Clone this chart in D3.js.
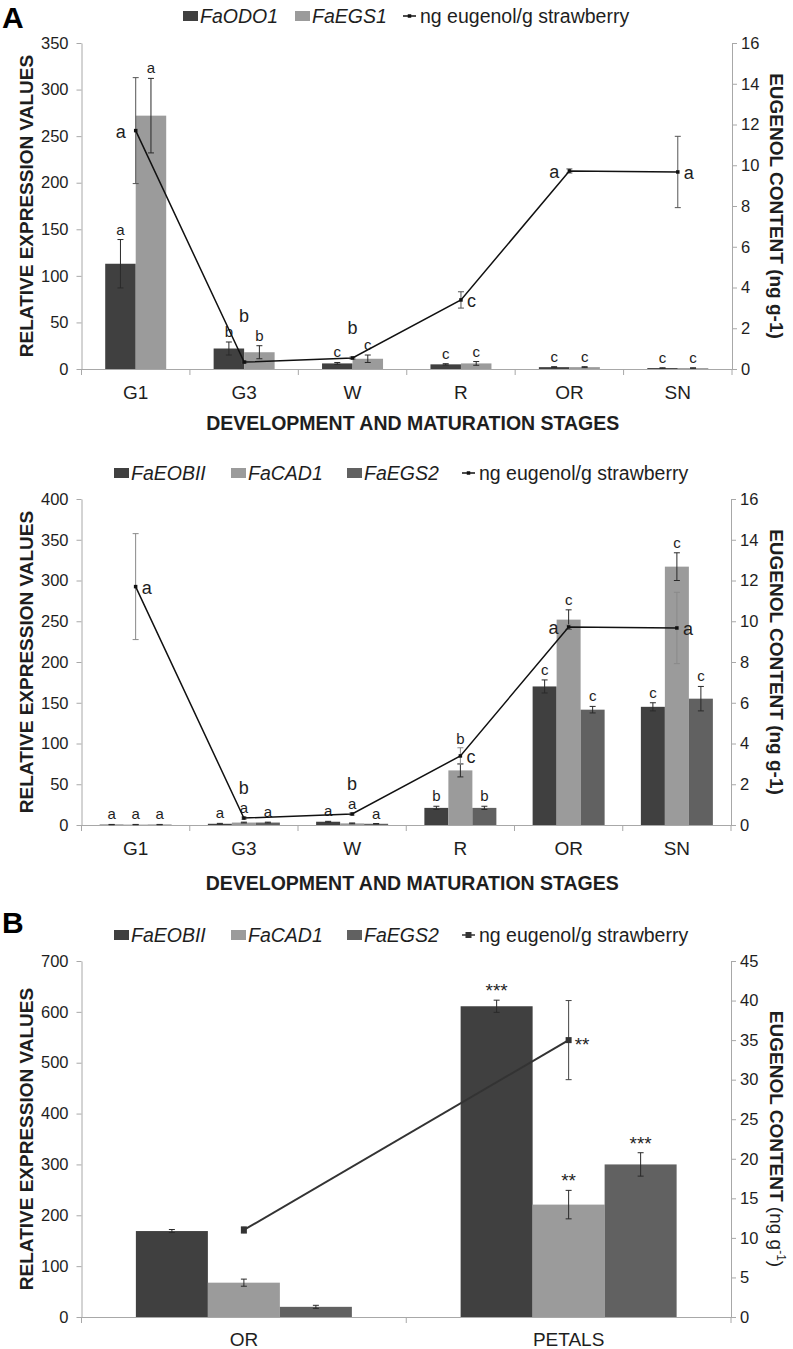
<!DOCTYPE html>
<html><head><meta charset="utf-8">
<script src="https://cdn.jsdelivr.net/npm/d3@7"></script>
<style>body{margin:0;background:#fff} svg{display:block;font-family:"Liberation Sans",Arial,sans-serif}</style>
</head><body><svg id="chart" width="793" height="1349"></svg>
<script>
// ---------------- DATA ----------------
const stagesA = ["G1", "G3", "W", "R", "OR", "SN"];
// Panel A (top)
const odo1 = [113, 22, 6, 5, 2, 1];
const odo1Err = [26, 7, 1, 0.7, 0.5, 0.3];
const odo1Letters = ["a", "b", "c", "c", "c", "c"];
const egs1 = [272, 18, 11, 6, 2, 1];
const egs1Err = [40, 7, 4, 2, 0.5, 0.3];
const egs1Letters = ["a", "b", "c", "c", "c", "c"];
// eugenol content (ng/g) along development
const eugenolA = [11.7, 0.34, 0.54, 3.39, 9.72, 9.67];
const eugenolAErr = [2.6, 0.05, 0.05, 0.4, 0.1, 1.75];
const eugenolALetters = ["a", "b", "b", "c", "a", "a"];
// Panel A (bottom)
const eobii = [0.5, 1.5, 4, 21, 170, 145];
const eobiiErr = [0.2, 0.5, 0.5, 2, 8, 5];
const eobiiLetters = ["a", "a", "a", "b", "c", "c"];
const cad1 = [0.5, 3, 2, 67, 252, 317];
const cad1Err = [0.2, 0.5, 0.5, 8, 12, 17];
const cad1Letters = ["a", "a", "a", "b", "c", "c"];
const egs2 = [0.5, 3, 1.5, 21, 141.5, 155];
const egs2Err = [0.2, 0.5, 0.3, 2, 4, 15];
const egs2Letters = ["a", "a", "a", "b", "c", "c"];
// Panel B
const tissuesB = ["OR", "PETALS"];
const eobiiB = [169, 611];
const eobiiBErr = [3, 12];
const eobiiBSig = ["", "***"];
const cad1B = [67.5, 221];
const cad1BErr = [7, 28];
const cad1BSig = ["", "**"];
const egs2B = [20, 300];
const egs2BErr = [3, 23];
const egs2BSig = ["", "***"];
const eugenolB = [11.0, 35.0];
const eugenolBErr = [0.4, 5.0];
const eugenolBSig = ["", "**"];
// tick values
const ticksLeftA1 = [0, 50, 100, 150, 200, 250, 300, 350];
const ticksLeftA2 = [0, 50, 100, 150, 200, 250, 300, 350, 400];
const ticksRightA = [0, 2, 4, 6, 8, 10, 12, 14, 16];
const ticksLeftB = [0, 100, 200, 300, 400, 500, 600, 700];
const ticksRightB = [0, 5, 10, 15, 20, 25, 30, 35, 40, 45];
// label placement of eugenol letters
const eugSideA1 = ["left", "above", "above", "right", "left", "right"];
const eugSideA2 = ["right", "above", "above", "right", "left", "right"];
const eugSideB = ["right", "right"];

// ---------------- STYLE ----------------
const DARK = "#404040", LIGHT = "#9b9b9b", MID = "#616161";
const AXIS = "#a8a8a8", TXT = "#1e1e1e";
const FONT = '"Liberation Sans",Arial,sans-serif';
const svg = d3.select("#chart");

function drawPanel(c) {
  const g = svg.append("g");
  const x = d3.scaleBand().domain(c.cats).range([c.x0, c.x1]).padding(0);
  const step = x.step();
  const x1 = d3.scaleBand().domain(c.series.map(s => s.name))
    .range([(step - c.groupW) / 2, (step + c.groupW) / 2]).padding(0);
  const yL = d3.scaleLinear().domain([0, c.lMax]).range([c.y0, c.yTop]);
  const yR = d3.scaleLinear().domain([0, c.rMax]).range([c.y0, c.yTop]);

  // left axis
  const la = g.append("g").attr("transform", `translate(${c.x0},0)`)
    .call(d3.axisLeft(yL).tickValues(c.lTicks).tickSize(5).tickPadding(8).tickSizeOuter(0));
  // right axis
  const ra = g.append("g").attr("transform", `translate(${c.x1},0)`)
    .call(d3.axisRight(yR).tickValues(c.rTicks).tickSize(5).tickPadding(4).tickSizeOuter(0));
  [la, ra].forEach(a => {
    a.select(".domain").attr("stroke", AXIS);
    a.selectAll(".tick line").attr("stroke", AXIS);
    a.selectAll(".tick text").attr("fill", TXT).style("font-size", "16.5px").style("font-family", FONT);
  });
  // bottom axis
  const ba = g.append("g").attr("transform", `translate(0,${c.y0})`)
    .call(d3.axisBottom(x).tickSize(0).tickPadding(c.catPad).tickSizeOuter(0));
  ba.select(".domain").attr("stroke", AXIS);
  ba.selectAll(".tick text").attr("fill", TXT).style("font-size", "19px").style("font-family", FONT);
  const bounds = c.cats.map(d => x(d)).concat([c.x1]);
  g.selectAll(null).data(bounds).join("line")
    .attr("x1", d => d).attr("x2", d => d)
    .attr("y1", c.y0).attr("y2", c.y0 + 6).attr("stroke", AXIS);

  // bars
  c.series.forEach(s => {
    g.append("g").selectAll("rect").data(c.cats).join("rect")
      .attr("x", d => x(d) + x1(s.name))
      .attr("width", x1.bandwidth())
      .attr("y", (d, i) => yL(s.values[i]))
      .attr("height", (d, i) => c.y0 - yL(s.values[i]))
      .attr("fill", s.color);
  });

  const pts = c.cats.map((d, i) => [x(d) + step / 2, yR(c.eug[i])]);
  const eugTop = c.cats.map((d, i) => yR(c.eug[i] + c.eugErr[i]));

  // error bars + letters
  c.series.forEach(s => {
    c.cats.forEach((d, i) => {
      const cx = x(d) + x1(s.name) + x1.bandwidth() / 2;
      const hi = yL(s.values[i] + s.err[i]), lo = yL(Math.max(0, s.values[i] - s.err[i]));
      const eg = g.append("g").attr("stroke", "#2a2a2a").attr("stroke-width", 1);
      eg.append("line").attr("x1", cx).attr("x2", cx).attr("y1", hi).attr("y2", lo);
      eg.append("line").attr("x1", cx - 3).attr("x2", cx + 3).attr("y1", hi).attr("y2", hi);
      eg.append("line").attr("x1", cx - 3).attr("x2", cx + 3).attr("y1", lo).attr("y2", lo);
      if (s.letters[i]) {
        let ly = hi - c.letterGap;
        // keep clear of the eugenol error bar when sharing the same x
        if (Math.abs(cx - pts[i][0]) < 4 && ly > eugTop[i] - 4 && ly - 12 < pts[i][1] + 4) ly = eugTop[i] - 4;
        g.append("text").attr("x", cx).attr("y", ly)
          .attr("text-anchor", "middle").attr("fill", TXT)
          .style("font-size", c.letterSize + "px").text(s.letters[i]);
      }
    });
  });

  // eugenol line
  c.cats.forEach((d, i) => {
    const cx = x(d) + step / 2;
    const hi = yR(c.eug[i] + c.eugErr[i]), lo = yR(c.eug[i] - c.eugErr[i]);
    const eg = g.append("g").attr("stroke", c.eugErrColor).attr("stroke-width", 1);
    eg.append("line").attr("x1", cx).attr("x2", cx).attr("y1", hi).attr("y2", lo);
    eg.append("line").attr("x1", cx - 3).attr("x2", cx + 3).attr("y1", hi).attr("y2", hi);
    eg.append("line").attr("x1", cx - 3).attr("x2", cx + 3).attr("y1", lo).attr("y2", lo);
  });
  g.append("path").attr("d", d3.line()(pts)).attr("fill", "none")
    .attr("stroke", c.lineColor).attr("stroke-width", c.lineWidth);
  g.selectAll(null).data(pts).join("rect")
    .attr("x", p => p[0] - c.marker / 2).attr("y", p => p[1] - c.marker / 2)
    .attr("width", c.marker).attr("height", c.marker).attr("fill", c.lineColor);
  // eugenol letters
  pts.forEach((p, i) => {
    const lab = c.eugLetters[i];
    if (!lab) return;
    const side = c.eugSide[i];
    let tx = p[0], ty = p[1] + 7, anchor = "middle";
    if (side === "left") { tx = p[0] - 10; anchor = "end"; }
    else if (side === "right") { tx = p[0] + 6; anchor = "start"; }
    else {
      let minTop = Infinity;
      c.series.forEach(s => { minTop = Math.min(minTop, yL(s.values[i] + s.err[i]) - c.letterGap - 11); });
      ty = Math.min(p[1] - 24, minTop - 4);
    }
    if (c.eugLetterDy) ty += c.eugLetterDy;
    g.append("text").attr("x", tx).attr("y", ty).attr("text-anchor", anchor)
      .attr("fill", TXT).style("font-size", c.eugLetterSize + "px").text(lab);
  });

  // legend
  c.series.forEach((s, i) => {
    const lx = c.legendX[i];
    g.append("rect").attr("x", lx).attr("y", c.legendY - 5).attr("width", 15).attr("height", 10).attr("fill", s.color);
    g.append("text").attr("x", lx + 17).attr("y", c.legendY + 7).attr("fill", TXT)
      .style("font-size", "19.5px").style("font-style", "italic").text(s.name);
  });
  const llx = c.legendX[c.series.length];
  g.append("line").attr("x1", llx).attr("x2", llx + 13).attr("y1", c.legendY).attr("y2", c.legendY)
    .attr("stroke", c.lineColor).attr("stroke-width", 1.5);
  g.append("rect").attr("x", llx + 6.5 - c.marker / 2).attr("y", c.legendY - c.marker / 2)
    .attr("width", c.marker).attr("height", c.marker).attr("fill", c.lineColor);
  g.append("text").attr("x", llx + 17).attr("y", c.legendY + 7).attr("fill", TXT)
    .style("font-size", "19.5px").text("ng eugenol/g strawberry");

  // axis titles
  const midY = (c.y0 + c.yTop) / 2;
  g.append("text").attr("transform", `translate(33,${midY}) rotate(-90)`)
    .attr("text-anchor", "middle").attr("fill", TXT)
    .style("font-size", "19px").style("font-weight", "bold").text("RELATIVE EXPRESSION VALUES");
  const rt = g.append("text").attr("transform", `translate(770,${midY}) rotate(90)`)
    .attr("text-anchor", "middle").attr("fill", TXT)
    .style("font-size", "19px").style("font-weight", "bold");
  if (c.supUnit) {
    rt.append("tspan").text("EUGENOL CONTENT ");
    rt.append("tspan").style("font-weight", "normal").text("(ng g");
    rt.append("tspan").style("font-weight", "normal").style("font-size", "12px").attr("dy", -7).text("-1");
    rt.append("tspan").style("font-weight", "normal").attr("dy", 7).text(")");
  } else {
    rt.text("EUGENOL CONTENT (ng g-1)");
  }
  if (c.xTitleY) {
    g.append("text").attr("x", (c.x0 + c.x1) / 2 + 6).attr("y", c.xTitleY).attr("text-anchor", "middle")
      .attr("fill", TXT).style("font-size", "19.5px").style("font-weight", "bold")
      .text("DEVELOPMENT AND MATURATION STAGES");
  }
}

// Panel A - top
drawPanel({
  cats: stagesA, x0: 81.5, x1: 732, y0: 369, yTop: 43,
  lMax: 350, lTicks: ticksLeftA1, rMax: 16, rTicks: ticksRightA,
  groupW: 61, catPad: 17,
  series: [
    { name: "FaODO1", values: odo1, err: odo1Err, letters: odo1Letters, color: DARK },
    { name: "FaEGS1", values: egs1, err: egs1Err, letters: egs1Letters, color: LIGHT }
  ],
  eug: eugenolA, eugErr: eugenolAErr, eugLetters: eugenolALetters, eugSide: eugSideA1,
  eugErrColor: "#555", lineColor: "#111", lineWidth: 1.5, marker: 3.5,
  letterSize: 15, letterGap: 5, eugLetterSize: 18,
  legendY: 16, legendX: [183, 295, 403], xTitleY: 430, supUnit: false
});
// Panel A - bottom
drawPanel({
  cats: stagesA, x0: 81.5, x1: 731, y0: 825, yTop: 499,
  lMax: 400, lTicks: ticksLeftA2, rMax: 16, rTicks: ticksRightA,
  groupW: 72, catPad: 17,
  series: [
    { name: "FaEOBII", values: eobii, err: eobiiErr, letters: eobiiLetters, color: DARK },
    { name: "FaCAD1", values: cad1, err: cad1Err, letters: cad1Letters, color: LIGHT },
    { name: "FaEGS2", values: egs2, err: egs2Err, letters: egs2Letters, color: MID }
  ],
  eug: eugenolA, eugErr: eugenolAErr, eugLetters: eugenolALetters, eugSide: eugSideA2,
  eugErrColor: "#8a8a8a", lineColor: "#111", lineWidth: 1.5, marker: 3.5,
  letterSize: 15, letterGap: 5, eugLetterSize: 18,
  legendY: 473, legendX: [114, 231, 347, 462], xTitleY: 890, supUnit: false
});
// Panel B
drawPanel({
  cats: tissuesB, x0: 81.5, x1: 731, y0: 1317, yTop: 961,
  lMax: 700, lTicks: ticksLeftB, rMax: 45, rTicks: ticksRightB,
  groupW: 216, catPad: 16,
  series: [
    { name: "FaEOBII", values: eobiiB, err: eobiiBErr, letters: eobiiBSig, color: DARK },
    { name: "FaCAD1", values: cad1B, err: cad1BErr, letters: cad1BSig, color: LIGHT },
    { name: "FaEGS2", values: egs2B, err: egs2BErr, letters: egs2BSig, color: MID }
  ],
  eug: eugenolB, eugErr: eugenolBErr, eugLetters: eugenolBSig, eugSide: eugSideB,
  eugErrColor: "#444", lineColor: "#333", lineWidth: 2, marker: 6,
  letterSize: 19, letterGap: 3, eugLetterSize: 19, eugLetterDy: 4,
  legendY: 935, legendX: [114, 231, 347, 462], xTitleY: null, supUnit: true
});

// panel letters
svg.append("text").attr("x", 2).attr("y", 28).attr("fill", "#000")
  .style("font-size", "30px").style("font-weight", "bold").text("A");
svg.append("text").attr("x", 2).attr("y", 933).attr("fill", "#000")
  .style("font-size", "30px").style("font-weight", "bold").text("B");
</script>
</body></html>
